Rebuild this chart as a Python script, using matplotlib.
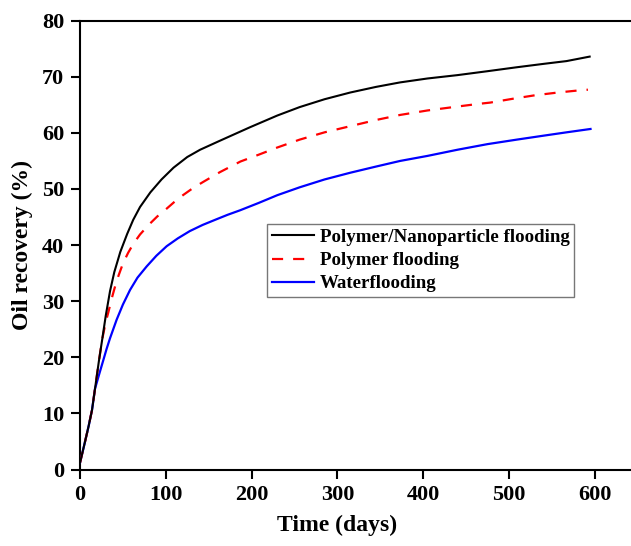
import matplotlib
matplotlib.use("Agg")
import matplotlib.pyplot as plt

# Oil recovery over time for three flooding methods
days_np = [0, 5, 10, 14, 17.5, 22, 26, 30, 35, 40, 47, 55, 62, 70, 82, 95, 109, 125,
           140, 163, 198, 230, 256, 285, 315, 345, 373, 405, 440, 475, 509, 540, 567, 594]
rec_np = [1.2, 4.4, 7.7, 10.6, 14.4, 19.3, 23.3, 27.4, 31.8, 35.2, 38.8, 42.0, 44.5,
          46.8, 49.4, 51.7, 53.8, 55.7, 57.0, 58.6, 61.0, 63.1, 64.6, 66.0, 67.2,
          68.2, 69.0, 69.7, 70.3, 71.0, 71.7, 72.3, 72.8, 73.6]

days_pf = [0, 5, 10, 14, 17.5, 22, 26, 30, 33, 37, 41, 45, 50, 56, 62, 70, 80, 90, 101,
           110, 120, 132, 144, 163, 187, 208, 230, 256, 285, 315, 345, 373, 405, 440,
           466, 478, 505, 530, 557, 583, 592]
rec_pf = [1.2, 4.4, 7.7, 10.6, 14.4, 19.3, 23.3, 26.3, 28.0, 30.5, 32.7, 34.6, 36.7,
          38.6, 40.2, 41.9, 43.6, 45.1, 46.5, 47.7, 48.9, 50.2, 51.3, 53.0, 54.9,
          56.1, 57.4, 58.8, 60.1, 61.2, 62.3, 63.2, 64.0, 64.7, 65.2, 65.4, 66.1,
          66.7, 67.2, 67.6, 67.7]

days_wf = [0, 5, 10, 14, 17.5, 22, 27, 31, 35, 42.7, 50, 58.3, 67, 77.7, 89, 101, 114,
           128, 143, 159, 172, 186.5, 208, 230, 256, 285, 315, 345, 373, 405, 440, 475,
           509, 540, 567, 595]
rec_wf = [1.2, 4.4, 7.7, 10.6, 14.4, 16.8, 19.4, 21.5, 23.4, 26.7, 29.4, 32.0, 34.2,
          36.2, 38.1, 39.8, 41.2, 42.5, 43.6, 44.6, 45.4, 46.2, 47.5, 48.9, 50.3,
          51.7, 52.9, 54.0, 55.0, 55.9, 57.0, 58.0, 58.8, 59.5, 60.1, 60.7]

labels = ["Polymer/Nanoparticle flooding", "Polymer flooding", "Waterflooding"]
x_ticks = [0, 100, 200, 300, 400, 500, 600]
y_ticks = [0, 10, 20, 30, 40, 50, 60, 70, 80]

plt.rcParams["font.family"] = ["Liberation Serif", "DejaVu Serif"]
plt.rcParams["font.weight"] = "bold"

W, H = 631, 546
fig = plt.figure(figsize=(W / 100, H / 100), dpi=100)
fig.patch.set_facecolor("white")

# axes box in pixels: x 0 -> 80, 650 -> 637.7 ; y 0 -> 469.5, 80 -> 20.7
left, right = 80, 637.7
top, bottom = 20.7, 469.5
ax = fig.add_axes([left / W, (H - bottom) / H, (right - left) / W, (bottom - top) / H])

ax.plot(days_wf, rec_wf, color="#0000ff", lw=1.6, label=labels[2], zorder=3)
ax.plot(days_pf, rec_pf, color="#ff0000", lw=1.6, dashes=(5, 4.5), label=labels[1], zorder=4)
ax.plot(days_np, rec_np, color="black", lw=1.5, label=labels[0], zorder=5)

ax.set_xlim(0, 650)
ax.set_ylim(0, 80)
ax.set_xticks(x_ticks)
ax.set_yticks(y_ticks)
ax.tick_params(axis="both", direction="out", length=6.5, width=1.5, labelsize=16, pad=5)
for lab in ax.get_xticklabels() + ax.get_yticklabels():
    lab.set_fontweight("bold")

ax.spines["right"].set_visible(False)
for s in ("left", "bottom", "top"):
    ax.spines[s].set_linewidth(1.5)

ax.set_xlabel("Time (days)", fontsize=17, fontweight="bold")
ax.set_ylabel("Oil recovery (%)", fontsize=17, fontweight="bold")
ax.xaxis.set_label_coords(300 / 650, -0.102)
ax.yaxis.set_label_coords(-0.084, 0.5)

handles, labs = ax.get_legend_handles_labels()
order = [2, 1, 0]
leg = ax.legend([handles[i] for i in order], [labs[i] for i in order],
                loc="upper left", bbox_to_anchor=(267 / W, 1 - 224 / H),
                bbox_transform=fig.transFigure, borderaxespad=0,
                fancybox=False, frameon=True, edgecolor="#555555",
                prop={"family": "Liberation Serif", "weight": "bold", "size": 13.6},
                handlelength=2.25, handletextpad=0.3, labelspacing=0.32,
                borderpad=0.25)
leg.get_frame().set_linewidth(1.0)

fig.savefig("out.png", dpi=100, facecolor="white")
